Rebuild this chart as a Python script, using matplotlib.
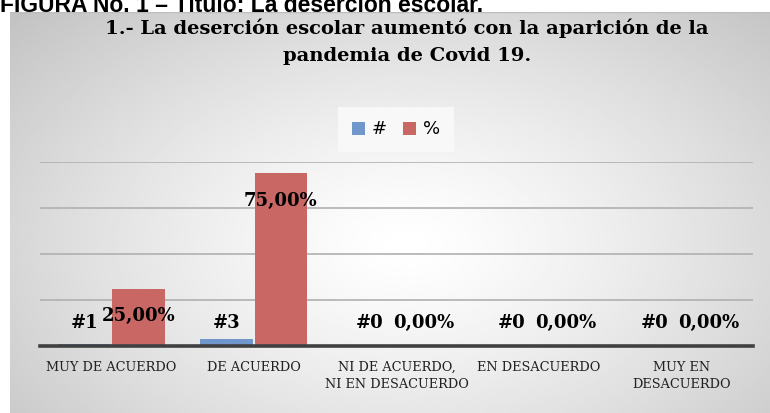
import numpy as np
import matplotlib
matplotlib.use("Agg")
import matplotlib.pyplot as plt

# data
categories = ["MUY DE ACUERDO", "DE ACUERDO", "NI DE ACUERDO,\nNI EN DESACUERDO",
              "EN DESACUERDO", "MUY EN\nDESACUERDO"]
counts = [1, 3, 0, 0, 0]
percents = [25.0, 75.0, 0.0, 0.0, 0.0]
series_names = ["#", "%"]

header = "FIGURA No. 1 \u2013 Título: La deserción escolar."
title = "1.- La deserción escolar aumentó con la aparición de la\npandemia de Covid 19."

W, H = 770, 413
fig = plt.figure(figsize=(W / 100, H / 100), dpi=100)
fig.patch.set_facecolor("white")

# chart area with radial grey gradient
bg = fig.add_axes([10 / W, 0, (W - 10) / W, (H - 12) / H])
yy, xx = np.mgrid[0:1:200j, 0:1:400j]
r = np.sqrt(((xx - 0.52) / 0.52) ** 2 + ((yy - 0.58) / 0.62) ** 2) / np.sqrt(2)
shade = 1 - 0.25 * np.clip(r, 0, 1) ** 1.3
bg.imshow(shade, cmap="gray", vmin=0, vmax=1, aspect="auto",
          extent=(0, 1, 0, 1), origin="upper")
bg.plot([0, 1], [1, 1], color="#bdbdbd", lw=1)
bg.set_xlim(0, 1)
bg.set_ylim(0, 1)
bg.axis("off")

# plot area
base_y, top_y = 346, 162
ax = fig.add_axes([40 / W, (H - base_y) / H, 713 / W, (base_y - top_y) / H])
ax.patch.set_alpha(0)
x = np.arange(len(categories))
bw = 0.37
off = 0.19
blue = "#6f97cb"
red = "#c96764"
ax.bar(x - off, counts, bw, color=blue, label=series_names[0], zorder=3)
ax.bar(x + off, percents, bw, color=red, label=series_names[1], zorder=3)
ax.set_xlim(-0.5, len(categories) - 0.5)
ax.set_ylim(0, 80)
ax.set_yticks([20, 40, 60, 80])
ax.yaxis.grid(True, color="#b0b0b0", lw=1.2, zorder=0)
ax.tick_params(axis="y", left=False, labelleft=False)
ax.tick_params(axis="x", bottom=False, pad=7)
ax.set_xticks(x)
ax.set_xticklabels(categories, fontfamily="DejaVu Serif", fontsize=9.3,
                   color="#222222", linespacing=1.4)
for s in ["top", "right", "left"]:
    ax.spines[s].set_visible(False)
ax.spines["bottom"].set_color("#404040")
ax.spines["bottom"].set_linewidth(2.6)
ax.spines["bottom"].set_zorder(4)

lab_kw = dict(fontfamily="DejaVu Serif", fontweight="bold", fontsize=13,
              color="black", ha="center", va="center", zorder=5,
              textcoords="offset pixels")


def put_label(xpos, val, text):
    if val >= 20:
        ax.annotate(text, (xpos, val), xytext=(0, -27), **lab_kw)
    else:
        ax.annotate(text, (xpos, 0), xytext=(0, 23), **lab_kw)


for i in range(len(categories)):
    put_label(x[i] - off, counts[i], f"#{counts[i]}")
    put_label(x[i] + off, percents[i], f"{percents[i]:.2f}%".replace(".", ","))

leg = fig.legend(loc="center", bbox_to_anchor=(396 / W, 1 - 129.5 / H),
                 ncol=2, frameon=True, fontsize=13, handlelength=0.7,
                 handleheight=0.7, handletextpad=0.4, columnspacing=0.9,
                 borderpad=0.75)
leg.get_frame().set_facecolor("#f8f8f8")
leg.get_frame().set_edgecolor("none")
leg.get_frame().set_alpha(1)
leg.get_frame().set_boxstyle("square", pad=0)

fig.text(407 / W, 1 - 19 / H, title, ha="center", va="top",
         fontfamily="DejaVu Serif", fontweight="bold", fontsize=14,
         linespacing=1.6)
fig.text(0, 1 - 12 / H, header, ha="left", va="baseline",
         fontfamily="Liberation Sans", fontweight="bold", fontsize=16.5)

fig.savefig("out.png", dpi=100)
